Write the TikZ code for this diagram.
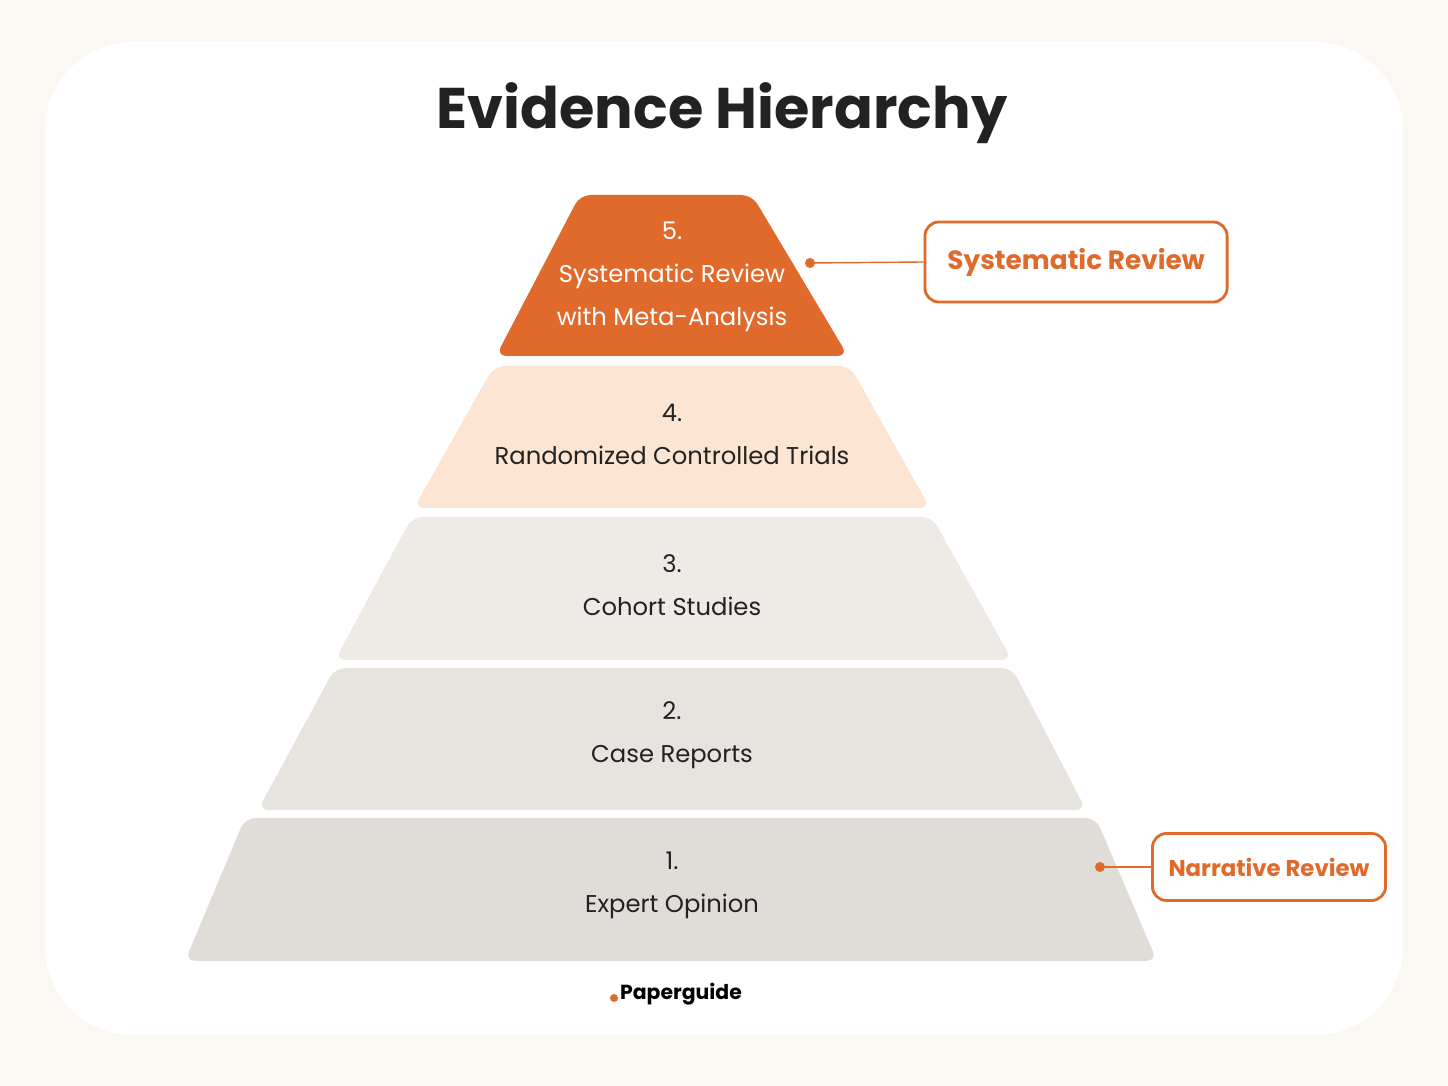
\documentclass[tikz,border=0pt]{standalone}
\usepackage{fontspec}
\setmainfont{Poppins}
\usetikzlibrary{positioning}
\definecolor{bgpaper}{HTML}{FBF8F4}
\definecolor{topor}{HTML}{E06A2B}
\definecolor{peach}{HTML}{FCE5D3}
\definecolor{stone}{HTML}{EEEBE7}
\definecolor{ink}{HTML}{222222}
\tikzset{
    layer/.style={rounded corners=3pt},
    lbl/.style={align=center,font=\fontsize{6.9}{12.2}\selectfont,text=ink,inner sep=0pt},
    callout/.style={draw=topor,thick,rounded corners=4pt,fill=white,text=topor,font=\fontsize{7.5}{9}\selectfont\bfseries},
}
\begin{document}
\begin{tikzpicture}[x=0.01cm,y=-0.01cm]
    \fill[bgpaper] (0,0) rectangle (1448,1086);
    \useasboundingbox (0,0) rectangle (1448,1086);
    \fill[white,rounded corners=25pt] (45,42) rectangle (1403,1035);
    \node[font=\fontsize{16.3}{20}\selectfont\bfseries,text=ink] at (722,113) (title) {Evidence Hierarchy};
    % pyramid layers
    \fill[layer,topor] (496,356) -- (580,195) -- (752,195) -- (848,356) -- cycle;
    \fill[layer,peach] (414,508) -- (494,366) -- (850,366) -- (930,508) -- cycle;
    \fill[layer,stone] (335,660) -- (412,517) -- (932,517) -- (1012,660) -- cycle;
    \fill[layer,stone!97!black] (258,810) -- (335,668) -- (1012,668) -- (1086,810) -- cycle;
    \fill[layer,stone!94!black] (185,961) -- (245,818) -- (1096,818) -- (1157,961) -- cycle;
    \node[lbl,text=white] at (672,277) (l5) {5.\\Systematic Review\\with Meta-Analysis};
    \node[lbl] at (672,434) (l4) {4.\\Randomized Controlled Trials};
    \node[lbl] at (672,585) (l3) {3.\\Cohort Studies};
    \node[lbl] at (672,735) (l2) {2.\\Case Reports};
    \node[lbl] at (672,885) (l1) {1.\\Expert Opinion};
    % callouts
    \node[callout,minimum width=3.02cm,minimum height=0.8cm] at (1076,262) (sysrev) {Systematic Review};
    \node[callout,font=\fontsize{6.5}{8}\selectfont\bfseries,minimum width=2.33cm,minimum height=0.67cm] at (1269,867) (narrev) {Narrative Review};
    \coordinate (d5) at (810,263);
    \coordinate (d1) at (1100,867);
    \fill[topor] (d5) circle (5);
    \fill[topor] (d1) circle (5);
    \draw[topor] (d5) -- (sysrev.west);
    \draw[topor] (d1) -- (narrev.west);
    % logo
    \node[font=\fontsize{5.8}{7}\selectfont\bfseries,text=black] at (681,994) (logo) {Paperguide};
    \fill[topor] (614,998) circle (4);
\end{tikzpicture}
\end{document}
